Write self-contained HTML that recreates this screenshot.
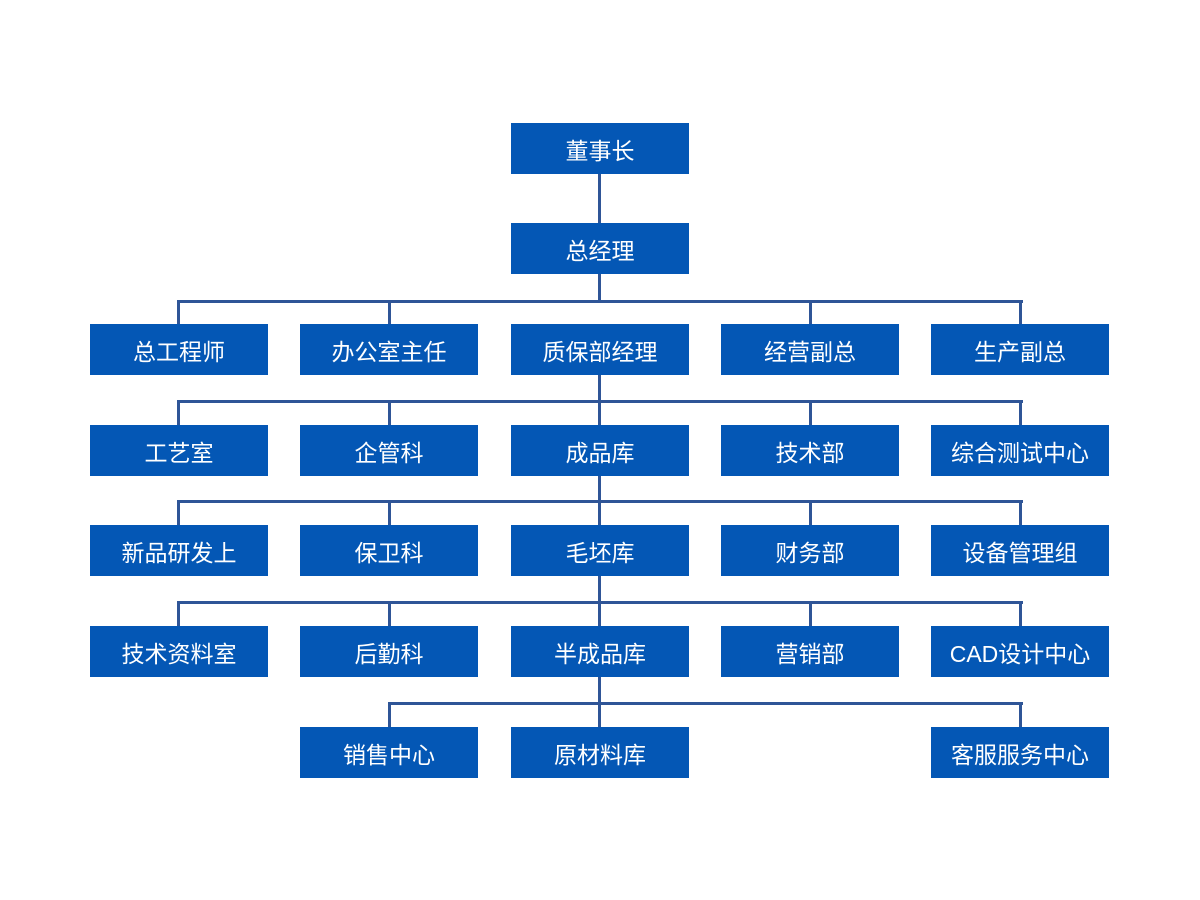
<!DOCTYPE html>
<html><head><meta charset="utf-8"><style>
body{margin:0;width:1200px;height:900px;background:#fff;position:relative;font-family:"Liberation Sans","Noto Sans CJK SC",sans-serif;overflow:hidden}
.b{position:absolute;width:178px;height:51px;background:#0457b5;color:#fff;font-size:23px;display:flex;align-items:center;justify-content:center}
.h{position:absolute;height:3px;background:#2f5597}
.v{position:absolute;width:3px;background:#2f5597}
</style></head><body>
<div class="v" style="left:598px;top:174px;height:50px"></div>
<div class="v" style="left:598px;top:274px;height:26px"></div>
<div class="h" style="left:177px;top:300px;width:846px"></div>
<div class="v" style="left:177px;top:300px;height:24px"></div><div class="v" style="left:388px;top:300px;height:24px"></div><div class="v" style="left:809px;top:300px;height:24px"></div><div class="v" style="left:1019px;top:300px;height:24px"></div>
<div class="v" style="left:598px;top:375px;height:50px"></div>
<div class="h" style="left:177px;top:400px;width:846px"></div>
<div class="v" style="left:177px;top:400px;height:25px"></div><div class="v" style="left:388px;top:400px;height:25px"></div><div class="v" style="left:809px;top:400px;height:25px"></div><div class="v" style="left:1019px;top:400px;height:25px"></div>
<div class="v" style="left:598px;top:476px;height:50px"></div>
<div class="h" style="left:177px;top:500px;width:846px"></div>
<div class="v" style="left:177px;top:500px;height:25px"></div><div class="v" style="left:388px;top:500px;height:25px"></div><div class="v" style="left:809px;top:500px;height:25px"></div><div class="v" style="left:1019px;top:500px;height:25px"></div>
<div class="v" style="left:598px;top:576px;height:50px"></div>
<div class="h" style="left:177px;top:601px;width:846px"></div>
<div class="v" style="left:177px;top:601px;height:25px"></div><div class="v" style="left:388px;top:601px;height:25px"></div><div class="v" style="left:809px;top:601px;height:25px"></div><div class="v" style="left:1019px;top:601px;height:25px"></div>
<div class="v" style="left:598px;top:677px;height:50px"></div>
<div class="h" style="left:388px;top:702px;width:635px"></div>
<div class="v" style="left:388px;top:702px;height:25px"></div><div class="v" style="left:1019px;top:702px;height:25px"></div>

<div class="b" style="left:511px;top:123px">董事长</div>
<div class="b" style="left:511px;top:223px">总经理</div>

<div class="b" style="left:90px;top:324px">总工程师</div>
<div class="b" style="left:300px;top:324px">办公室主任</div>
<div class="b" style="left:511px;top:324px">质保部经理</div>
<div class="b" style="left:721px;top:324px">经营副总</div>
<div class="b" style="left:931px;top:324px">生产副总</div>

<div class="b" style="left:90px;top:425px">工艺室</div>
<div class="b" style="left:300px;top:425px">企管科</div>
<div class="b" style="left:511px;top:425px">成品库</div>
<div class="b" style="left:721px;top:425px">技术部</div>
<div class="b" style="left:931px;top:425px">综合测试中心</div>

<div class="b" style="left:90px;top:525px">新品研发上</div>
<div class="b" style="left:300px;top:525px">保卫科</div>
<div class="b" style="left:511px;top:525px">毛坯库</div>
<div class="b" style="left:721px;top:525px">财务部</div>
<div class="b" style="left:931px;top:525px">设备管理组</div>

<div class="b" style="left:90px;top:626px">技术资料室</div>
<div class="b" style="left:300px;top:626px">后勤科</div>
<div class="b" style="left:511px;top:626px">半成品库</div>
<div class="b" style="left:721px;top:626px">营销部</div>
<div class="b" style="left:931px;top:626px">CAD设计中心</div>

<div class="b" style="left:300px;top:727px">销售中心</div>
<div class="b" style="left:511px;top:727px">原材料库</div>
<div class="b" style="left:931px;top:727px">客服服务中心</div>
</body></html>
